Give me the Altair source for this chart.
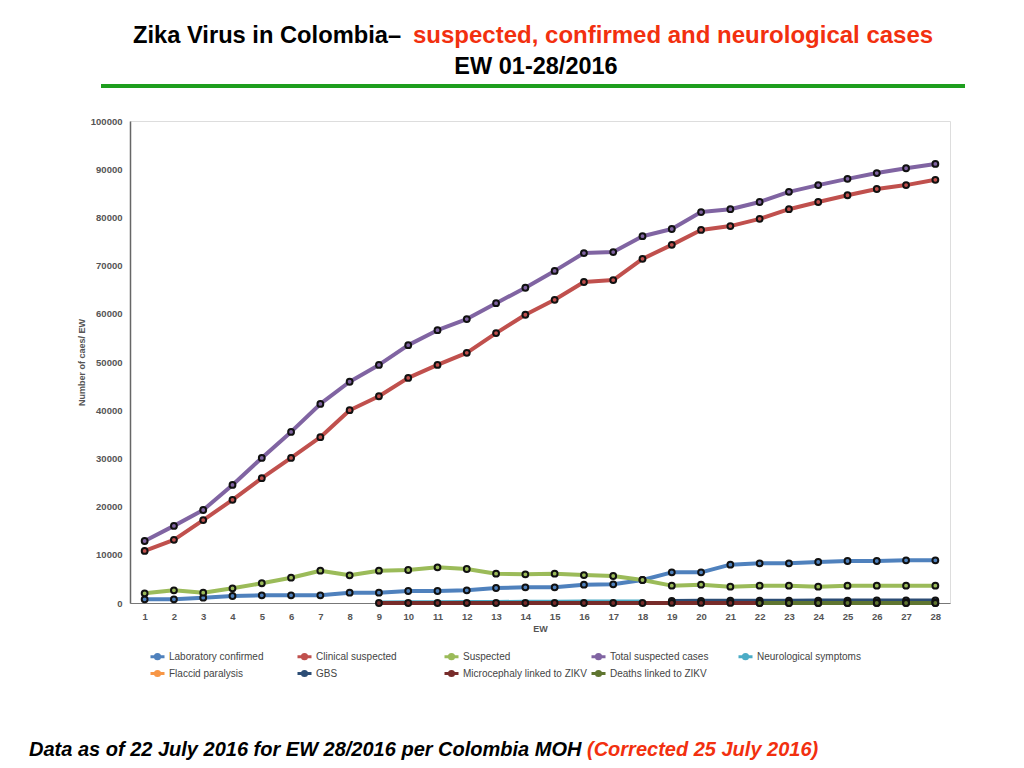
import altair as alt
import pandas as pd

# ---------------- data ----------------
ew = list(range(1, 29))
lab_confirmed = [760, 760, 1100, 1450, 1590, 1590, 1590, 2140, 2140, 2490, 2490, 2630, 3110, 3250,
                 3250, 3800, 3870, 4770, 6360, 6360, 7950, 8230, 8230, 8500, 8710, 8710, 8850, 8850]
clinical_suspected = [10800, 13100, 17200, 21400, 25900, 30100, 34400, 40000, 42900, 46700, 49400,
                      51900, 56000, 59800, 62900, 66600, 67000, 71400, 74300, 77400, 78200, 79700,
                      81700, 83200, 84600, 85900, 86700, 87800]
suspected = [2000, 2630, 2140, 3050, 4090, 5250, 6700, 5740, 6700, 6850, 7400, 7050, 6080, 5950,
             6080, 5800, 5600, 4770, 3600, 3800, 3390, 3600, 3600, 3390, 3600, 3600, 3600, 3600]
total_suspected = [12860, 16000, 19300, 24500, 30100, 35500, 41300, 45900, 49400, 53500, 56600,
                   58900, 62200, 65400, 68900, 72600, 72800, 76100, 77600, 81100, 81700, 83200,
                   85300, 86700, 88000, 89200, 90200, 91100]
neuro_ew = list(range(9, 19))
neurological = [120, 150, 180, 200, 220, 250, 270, 290, 300, 320]
gbs_ew = list(range(19, 29))
gbs = [420, 450, 470, 480, 490, 500, 510, 520, 530, 540]
micro_ew = list(range(9, 29))
microcephaly = [2, 3, 3, 4, 5, 5, 6, 6, 7, 8, 9, 10, 11, 12, 13, 14, 15, 16, 18, 21]
deaths_ew = list(range(22, 29))
deaths = [3, 3, 4, 4, 5, 5, 6]

series_names = ["Laboratory confirmed", "Clinical suspected", "Suspected", "Total suspected cases",
                "Neurological symptoms", "Flaccid paralysis", "GBS",
                "Microcephaly linked to ZIKV", "Deaths linked to ZIKV"]
series_colors = ["#4F81BD", "#C0504D", "#9BBB59", "#8064A2", "#4BACC6", "#F79646", "#2C4D75",
                 "#772C2A", "#5F7530"]
marker_series = ["Laboratory confirmed", "Clinical suspected", "Suspected", "Total suspected cases",
                 "GBS", "Microcephaly linked to ZIKV", "Deaths linked to ZIKV"]

title_black = ["Zika Virus in Colombia\u2013"]
title_red = ["suspected, confirmed and neurological cases"]
title_line2 = ["EW 01-28/2016"]
footer_black = ["Data as of 22 July 2016 for EW 28/2016 per Colombia MOH"]
footer_red = ["(Corrected 25 July 2016)"]
y_ticks = list(range(0, 100001, 10000))

# ---------------- long table ----------------
rows = []
def add(name, xs, ys):
    for x, y in zip(xs, ys):
        rows.append({"EW": x, "value": y, "series": name})

add("Laboratory confirmed", ew, lab_confirmed)
add("Clinical suspected", ew, clinical_suspected)
add("Suspected", ew, suspected)
add("Total suspected cases", ew, total_suspected)
add("Neurological symptoms", neuro_ew, neurological)
add("GBS", gbs_ew, gbs)
add("Microcephaly linked to ZIKV", micro_ew, microcephaly)
add("Deaths linked to ZIKV", deaths_ew, deaths)
df = pd.DataFrame(rows)
df["order"] = df["series"].map({n: i for i, n in enumerate(series_names)})

FONT = "Liberation Sans"

x_enc = alt.X("EW:O", sort=ew, scale=alt.Scale(domain=ew, paddingOuter=0.5, paddingInner=1),
              axis=alt.Axis(title="EW", labelAngle=0, ticks=False, labelPadding=8,
                            labelFontSize=9.5, labelFontWeight="bold", labelColor="#555",
                            titleFontSize=9, titleFontWeight="bold", titleColor="#555",
                            titlePadding=4, domainColor="#777"))
y_enc = alt.Y("value:Q", scale=alt.Scale(domain=[0, 100000], nice=False),
              axis=alt.Axis(title="Number of caes/ EW", values=y_ticks, format="d", grid=False,
                            ticks=False, labelPadding=8, labelFontSize=9.5,
                            labelFontWeight="bold", labelColor="#555", titleFontSize=9,
                            titleFontWeight="bold", titleColor="#555", titlePadding=4,
                            domainColor="#666", domainWidth=1.5))

legend_path = "M-1,0L-0.3,0M0.3,0L1,0M0.3,0A0.3,0.3,0,1,1,-0.3,0A0.3,0.3,0,1,1,0.3,0"

lines = alt.Chart(df).mark_line(strokeWidth=4, strokeCap="round", strokeJoin="round").encode(
    x=x_enc, y=y_enc,
    color=alt.Color("series:N", scale=alt.Scale(domain=series_names, range=series_colors),
                    legend=alt.Legend(title=None, orient="none", legendX=19, legendY=527,
                                      direction="horizontal", columns=5, gridAlign="all",
                                      columnPadding=-2, rowPadding=0, symbolType=legend_path,
                                      symbolSize=196, symbolStrokeWidth=3, labelOffset=3,
                                      labelFontSize=10, labelColor="#444", labelFont=FONT,
                                      labelLimit=300)),
    order="order:Q",
)

points = alt.Chart(df).transform_filter(
    alt.FieldOneOfPredicate(field="series", oneOf=marker_series)
).mark_point(shape="circle", size=34, stroke="#111", strokeWidth=2, opacity=1, filled=True).encode(
    x="EW:O", y="value:Q",
    fill=alt.Fill("series:N", scale=alt.Scale(domain=series_names, range=series_colors), legend=None),
)

def text_layer(texts, x, y, size, color, align="left", style="normal"):
    return alt.Chart(pd.DataFrame({"t": texts})).mark_text(
        align=align, baseline="middle", font=FONT, fontSize=size, fontWeight="bold",
        fontStyle=style, color=color
    ).encode(x=alt.value(x), y=alt.value(y), text="t:N")

t1 = text_layer(title_black, 3, -85, 23.7, "#000")
t2 = text_layer(title_red, 283, -85, 24, "#F2300F")
t3 = text_layer(title_line2, 406, -54, 23.5, "#000", align="center")
f1 = text_layer(footer_black, -101, 629, 20, "#000", style="italic")
f2 = text_layer(footer_red, 457, 629, 20, "#F2300F", style="italic")

rule = alt.Chart(pd.DataFrame({"a": [0]})).mark_rule(color="#1E9E1E", strokeWidth=4).encode(
    x=alt.value(-29), x2=alt.value(835), y=alt.value(-35))

chart = alt.layer(lines, points, rule, t1, t2, t3, f1, f2).properties(
    width=820, height=482,
    padding={"left": 122, "top": 113, "right": 50, "bottom": 160},
    autosize=alt.AutoSizeParams(type="none"),
).configure_view(stroke="#888", strokeWidth=1).configure(font=FONT)

chart.save("out.html", embed_options={"renderer": "svg", "actions": False})
